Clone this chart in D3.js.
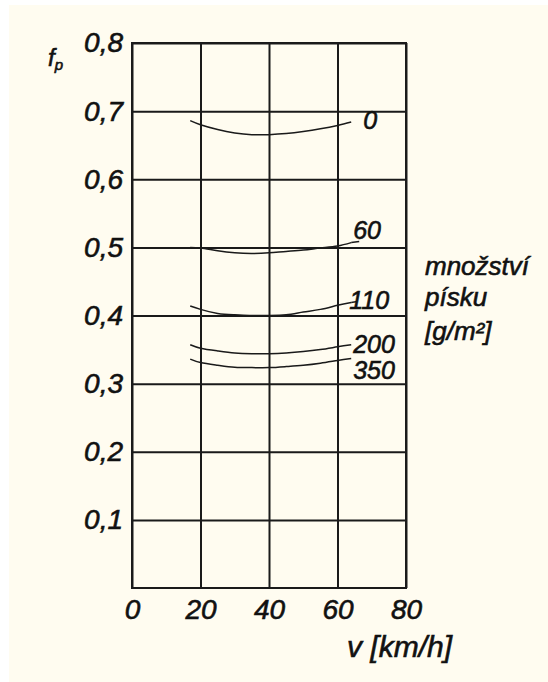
<!DOCTYPE html>
<html>
<head>
<meta charset="utf-8">
<script src="https://cdn.jsdelivr.net/npm/d3@7/dist/d3.min.js"></script>
<style>
  body { margin: 0; background: #fff; }
  svg { display: block; }
  text { font-family: "Liberation Sans", Arial, sans-serif; font-style: italic; fill: #111; stroke: #111; stroke-width: 0.6; }
  .axis .domain { display: none; }
  .axis line { stroke: #1a1a1a; stroke-width: 2; }
  .axis text { font-size: 28px; fill: #111; }
</style>
</head>
<body>
<div class="chart"></div>
<script>
var xTicks = [0, 20, 40, 60, 80];
var yTicks = [0.1, 0.2, 0.3, 0.4, 0.5, 0.6, 0.7, 0.8];
var speeds = [17, 20, 25, 30, 35, 40, 45, 50, 55, 60, 64];

// friction coefficient per amount of sand [g/m2]
var sandLabels = ["0", "60", "110", "200", "350"];
var fp0   = [0.686, 0.680, 0.673, 0.668, 0.6655, 0.6655, 0.667, 0.670, 0.674, 0.679, 0.684];
var fp60  = [0.500, 0.499, 0.495, 0.492, 0.491, 0.492, 0.494, 0.496, 0.499, 0.502, 0.507];
var fp110 = [0.414, 0.409, 0.403, 0.401, 0.400, 0.400, 0.401, 0.405, 0.409, 0.415, 0.419];
var fp200 = [0.357, 0.352, 0.348, 0.345, 0.344, 0.344, 0.345, 0.347, 0.350, 0.354, 0.357];
var fp350 = [0.336, 0.331, 0.327, 0.324, 0.3235, 0.3235, 0.325, 0.327, 0.330, 0.334, 0.337];
var series = [fp0, fp60, fp110, fp200, fp350];

var margins = { top: 43, right: 142, bottom: 94, left: 132 };
var chartWidth = 548 - margins.left - margins.right;
var chartHeight = 682 - margins.top - margins.bottom;

var svg = d3.select("div.chart")
  .append("svg")
  .attr("width", 548)
  .attr("height", 682);

// cream paper with thin white edge at top/left
svg.append("rect")
  .attr("x", 9).attr("y", 5)
  .attr("width", 548).attr("height", 682)
  .attr("fill", "#fffcf0");

var chartElement = svg.append("g")
  .attr("transform", `translate(${margins.left},${margins.top})`);

var xScale = d3.scaleLinear().domain([0, 80]).range([0, chartWidth]);
var yScale = d3.scaleLinear().domain([0, 0.8]).range([chartHeight, 0]);

var fmtDec = d => String(d).replace(".", ",");

var xAxis = d3.axisBottom(xScale)
  .tickValues(xTicks)
  .tickSize(-chartHeight)
  .tickPadding(11)
  .tickFormat(d => d);

var yAxis = d3.axisLeft(yScale)
  .tickValues(yTicks)
  .tickSize(-chartWidth)
  .tickPadding(9)
  .tickFormat(fmtDec);

chartElement.append("g")
  .attr("class", "x axis")
  .attr("transform", `translate(0,${chartHeight})`)
  .call(xAxis);

chartElement.append("g")
  .attr("class", "y axis")
  .call(yAxis);

// frame
chartElement.append("rect")
  .attr("width", chartWidth)
  .attr("height", chartHeight)
  .attr("fill", "none")
  .attr("stroke", "#1a1a1a")
  .attr("stroke-width", 2);

var line = d3.line()
  .x((d, i) => xScale(speeds[i]))
  .y(d => yScale(d))
  .curve(d3.curveNatural);

chartElement.append("g")
  .attr("class", "curves")
  .selectAll("path")
  .data(series)
  .enter()
  .append("path")
  .attr("d", line)
  .attr("fill", "none")
  .attr("stroke", "#1a1a1a")
  .attr("stroke-width", 1.5);

// curve labels, with short leaders for 60 and 110
var labelOffsets = [[12, 7], [2, -4], [-2, 6], [2, 8], [2, 21]];
var leaders = [0, 8, 6, 0, 0];
var endX = xScale(speeds[speeds.length - 1]);

chartElement.append("g")
  .selectAll("line")
  .data(series.filter((s, i) => leaders[i] > 0))
  .enter()
  .append("line")
  .attr("x1", endX)
  .attr("x2", (d) => endX + leaders[series.indexOf(d)])
  .attr("y1", d => yScale(d[d.length - 1]))
  .attr("y2", d => yScale(d[d.length - 1]) - 1)
  .attr("stroke", "#1a1a1a")
  .attr("stroke-width", 1.5);

chartElement.append("g")
  .selectAll("text")
  .data(sandLabels)
  .enter()
  .append("text")
  .attr("x", (d, i) => endX + labelOffsets[i][0])
  .attr("y", (d, i) => yScale(series[i][series[i].length - 1]) + labelOffsets[i][1])
  .attr("font-size", 25)
  .text(d => d);

// legend title
var legend = svg.append("text")
  .attr("x", 425)
  .attr("font-size", 26);
legend.append("tspan").attr("x", 425).attr("y", 275).text("množství");
legend.append("tspan").attr("x", 425).attr("y", 306).text("písku");
legend.append("tspan").attr("x", 425).attr("y", 340).text("[g/m²]");

// axis titles
var fp = svg.append("text")
  .attr("x", 48)
  .attr("y", 66)
  .attr("font-size", 24);
fp.append("tspan").text("f");
fp.append("tspan").attr("font-size", 15).attr("dy", 4).text("p");

svg.append("text")
  .attr("x", 452)
  .attr("y", 657)
  .attr("text-anchor", "end")
  .attr("font-size", 30)
  .text("v [km/h]");
</script>
</body>
</html>
